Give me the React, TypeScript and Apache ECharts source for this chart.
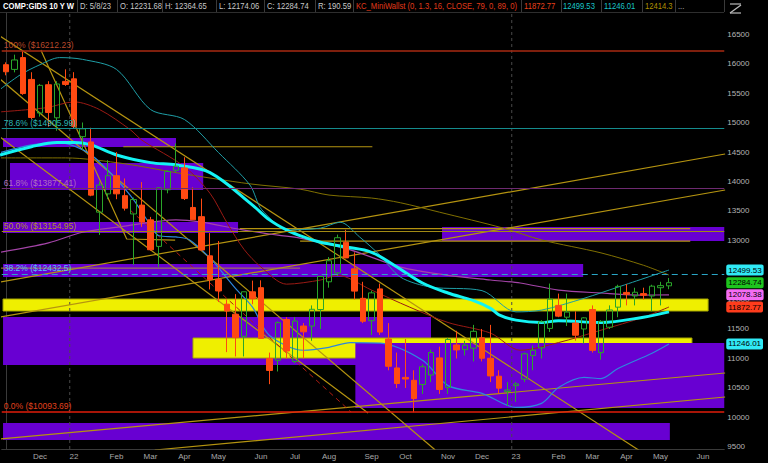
import React, { useEffect, useRef } from 'react';
import * as echarts from 'echarts';

const FONT = '"Liberation Sans", Arial, sans-serif';

// ---- categories (weekly bars) ----
const weeks = [
  '2021-11-08', '2021-11-15', '2021-11-22', '2021-11-29', '2021-12-06', '2021-12-13', '2021-12-20', '2021-12-27',
  '2022-01-03', '2022-01-10', '2022-01-17', '2022-01-24', '2022-01-31', '2022-02-07', '2022-02-14', '2022-02-21',
  '2022-02-28', '2022-03-07', '2022-03-14', '2022-03-21', '2022-03-28', '2022-04-04', '2022-04-11', '2022-04-18',
  '2022-04-25', '2022-05-02', '2022-05-09', '2022-05-16', '2022-05-23', '2022-05-30', '2022-06-06', '2022-06-13',
  '2022-06-20', '2022-06-27', '2022-07-04', '2022-07-11', '2022-07-18', '2022-07-25', '2022-08-01', '2022-08-08',
  '2022-08-15', '2022-08-22', '2022-08-29', '2022-09-05', '2022-09-12', '2022-09-19', '2022-09-26', '2022-10-03',
  '2022-10-10', '2022-10-17', '2022-10-24', '2022-10-31', '2022-11-07', '2022-11-14', '2022-11-21', '2022-11-28',
  '2022-12-05', '2022-12-12', '2022-12-19', '2022-12-26', '2023-01-02', '2023-01-09', '2023-01-16', '2023-01-23',
  '2023-01-30', '2023-02-06', '2023-02-13', '2023-02-20', '2023-02-27', '2023-03-06', '2023-03-13', '2023-03-20',
  '2023-03-27', '2023-04-03', '2023-04-10', '2023-04-17', '2023-04-24', '2023-05-01', '2023-05-08', '2023-05-15',
  '2023-05-22', '2023-05-29', '2023-06-05', '2023-06-12', '2023-06-19',
];

// ---- OHLC ----
const opens = [
  15980, 15900, 16100, 15730, 15160, 15640, 15080, 15697, 15740, 14760, 14670, 13480, 13790, 14098, 13760, 13450,
  13600, 13350, 12900, 13860, 14190, 14230, 13560, 13404, 12740, 12340, 11920, 11750, 11376, 12130, 12200, 11000,
  10970, 11660, 10950, 11550, 11550, 11830, 12300, 12450, 12970, 12520, 12020, 11640, 12180, 11330, 10840, 10680,
  10630, 10560, 10720, 11010, 10510, 11230, 11150, 11175, 11350, 11004, 10700, 10440, 10540, 10650, 11050, 11180,
  11510, 11900, 11700, 11600, 11500, 11830, 11100, 11530, 11870, 12120, 12060, 12100, 12060, 12200, 12231.68,
];
const closes = [
  15860, 16060, 15491, 15085, 15630, 15169, 15653, 15645, 14935, 14893, 13769, 13940, 14098, 13791, 13548, 13694,
  13313, 12843, 13893, 14169, 14261, 13711, 13351, 12839, 12335, 12145, 11805, 11354, 12131, 12012, 11340, 10798,
  11607, 11127, 11635, 11452, 11834, 12391, 12657, 13047, 12705, 12142, 11631, 12112, 11448, 10868, 10576, 10652,
  10321, 10860, 11102, 10475, 11323, 11146, 11226, 11461, 11004, 10705, 10497, 10466, 10569, 11079, 11140, 11622,
  12007, 11718, 11787, 11395, 11689, 11138, 11630, 11823, 12222, 12088, 12123, 12072, 12226, 12235, 12284.74,
];
const lows = [
  15800, 15850, 15470, 15054, 15100, 14930, 14860, 15620, 14909, 14532, 13750, 13094, 13700, 13700, 13507, 12587,
  13230, 12830, 12555, 13800, 14150, 13686, 13350, 12830, 12170, 11957, 11108, 11035, 11035, 11920, 11340, 10565,
  10780, 11000, 10920, 11000, 11300, 11500, 12200, 12400, 12700, 12000, 11600, 11400, 11400, 10800, 10500, 10500,
  10089, 10400, 10600, 10400, 10400, 11000, 11050, 10950, 10950, 10600, 10400, 10200, 10265, 10600, 10800, 11000,
  11450, 11700, 11550, 11300, 11250, 11100, 10980, 11500, 11700, 11900, 11900, 12000, 11800, 11900, 12174.06,
];
const highs = [
  16020, 16150, 16212.23, 15852, 15653, 15700, 15700, 15901, 15853, 15000, 14910, 14000, 14362, 14498, 14052, 13728,
  13990, 13400, 13900, 14191, 14646, 14411, 13900, 13710, 13127, 12991, 12000, 12091, 12131, 12320, 12325, 11100,
  11630, 11700, 11700, 11600, 11900, 12400, 12720, 13100, 13181, 12800, 12300, 12150, 12270, 11600, 11100, 11330,
  10800, 10900, 11150, 11200, 11350, 11470, 11300, 11570, 11500, 11570, 10800, 10600, 10600, 11100, 11220, 11650,
  12270, 12100, 12100, 11800, 11700, 11900, 11650, 11900, 12250, 12260, 12200, 12200, 12250, 12300, 12364.65,
];

// ---- study lines: [week index, value] ----
const thickAvg = [
  [-0.7, 14450], [3, 14590], [6, 14660], [8, 14660], [10, 14620], [13, 14450], [17, 14320], [20, 14280], [24, 14150],
  [29, 13600], [31, 13350], [33, 13180], [35, 13060], [37, 12970], [40, 12890], [43, 12800], [46, 12550], [49, 12280],
  [52, 12110], [55, 11980], [57, 11850], [58, 11740], [60, 11650], [63, 11610], [65, 11640], [70, 11610], [75, 11700],
  [78, 11790],
];
const upperBand = [
  [-0.7, 15560], [1.7, 15810], [4, 15980], [6.3, 16100], [9, 16070], [13, 15900], [17, 15220], [21, 15050],
  [25, 14490], [28.7, 13940], [30.1, 13520], [33.4, 13180], [37, 13210], [39.3, 13310], [41.6, 13060], [44, 12750],
  [46.4, 12380], [50, 12210], [56, 12150], [60, 11790], [63, 11820], [68, 12020], [72, 12210], [78, 12499.53],
];
const lowerBand = [
  [-0.7, 14490], [3, 14620], [6.3, 14660], [9, 14540], [11, 14330], [14.6, 13770], [17, 13260], [18, 13080],
  [20, 13060], [21.6, 13010], [24, 12700], [27, 12190], [29, 11870], [31, 11390], [35, 11140], [38, 11190],
  [40.5, 11270], [44, 11260], [49, 10970], [52, 10540], [56, 10410], [60, 10170], [63, 10240], [65, 10510],
  [68, 10680], [70, 10660], [72, 10830], [76, 11090], [78, 11246.01],
];
const midBand = [
  [-0.7, 15180], [4.7, 15250], [8, 15350], [11, 15220], [14.6, 14880], [16, 14700], [21, 14250], [24, 13800],
  [26, 13300], [28, 12850], [30, 12550], [33, 12260], [37, 12330], [39, 12410], [43, 12160], [47.5, 11870],
  [52, 11610], [57, 11430], [60.5, 11140], [65, 11270], [70, 11480], [75, 11700], [78, 11872.77],
];
const magentaAvg = [
  [-0.7, 12800], [5, 12960], [9, 13140], [13.4, 13230], [20, 13350], [23, 13310], [27.5, 13190], [32, 13090],
  [34.6, 13040], [40.5, 12840], [46.4, 12550], [52, 12410], [57, 12330], [60.5, 12280], [65, 12160], [70, 12110],
  [75, 12075], [78, 12078.38],
];
const oliveAvg = [
  [-0.7, 14400], [7, 14400], [14, 14300], [20, 14150], [28.7, 13960], [34.6, 13870], [38, 13770], [43, 13720],
  [46.4, 13640], [51, 13480], [58.5, 13210], [63, 13010], [70, 12790], [75, 12580], [78, 12414.3],
];

// ---- drawn trend lines: [week index, price] ----
const trendUp1 = [[-0.71, 12297], [84.6, 14466]];
const trendUp2 = [[-0.71, 11703], [84.6, 13856]];
const trendLow1 = [[-0.71, 9636], [84.6, 10754]];
const trendLow2 = [[17.5, 9449], [84.6, 10347]];
const trendDown1 = [[-0.71, 16466], [74.6, 9432]];
const trendDown2 = [[-0.71, 14754], [42.6, 10076]];
const trendDown3 = [[-0.71, 15737], [50.5, 9449]];
const zigzag = [[4.1, 16229], [14.2, 13025], [19.9, 13008]];
const redDashed = [[14.6, 13517], [40.6, 10093]];
const hLine1 = [[13.8, 14589], [43.1, 14589]];
const hLine2 = [[27.5, 13200], [80.5, 13200]];
const hLine3 = [[34.6, 12990], [80.5, 12990]];
const hLine4 = [[-0.71, 12532], [34.6, 12532]];

// ---- zones: [from week, to week, top price, bottom price] ----
const purpleZonesBack = [
  [-0.35, 20, 14737, 14585],
  [0.47, 23.2, 14313, 13856],
  [-0.35, 27.3, 13313, 13127],
  [-0.35, 67.9, 12602, 12381],
  [51.3, 84.5, 13229, 12991],
  [-0.35, 50, 11703, 10890],
  [-0.35, 78.1, 9907, 9618],
];
const yellowZones = [
  [-0.35, 82.6, 12008, 11805],
  [22, 80.7, 11347, 11008],
];
const purpleZonesFront = [[41.1, 84.5, 11263, 10161]];

// ---- fib levels ----
const fibPct = ['100%', '78.6%', '61.8%', '50.0%', '38.2%', '0.0%'];
const fibValues = [16212.23, 14905.99, 13877.41, 13154.95, 12432.5, 10093.69];
const fibLineColors = ['#a82a12', '#158c8e', '#6e2a70', '#a08a14', '#2aa6c6', '#e01c0a'];
const fibTextColors = ['#b8482a', '#2ab4b4', '#b070c0', '#b09624', '#52c2ee', '#e0401c'];

// ---- right-axis tags ----
const tagValues = [12499.53, 12284.74, 12078.38, 11872.77, 11246.01];
const tagColors = ['#30eaf6', '#1ec41e', '#f46cf4', '#ff3c1c', '#30eaf6'];

const yTicks = [9500, 10000, 10500, 11000, 11500, 12000, 12500, 13000, 13500, 14000, 14500, 15000, 15500, 16000, 16500];
const monthNames = ['Jan', 'Feb', 'Mar', 'Apr', 'May', 'Jun', 'Jul', 'Aug', 'Sep', 'Oct', 'Nov', 'Dec'];

const yearMarks = [7.5, 59.5];

// ---- header ----
const headerTexts = [
  'COMP:GIDS 10 Y W', 'D: 5/8/23', 'O: 12231.68', 'H: 12364.65', 'L: 12174.06', 'C: 12284.74', 'R: 190.59',
  'KC_MiniWallst (0, 1.3, 16, CLOSE, 79, 0, 89, 0)', '11872.77', '12499.53', '11246.01', '12414.3', '...',
];
const headerX = [3, 80, 120, 165, 219, 267, 318, 356, 524, 563, 604, 645, 678];
const headerColors = ['#ffffff', '#c8c8c8', '#c8c8c8', '#c8c8c8', '#c8c8c8', '#c8c8c8', '#c8c8c8', '#e03a1a', '#e8401c', '#19c4c8', '#19c4c8', '#b09000', '#aaaaaa'];
const headerSeps = [77, 117, 162, 216, 264, 315, 353, 521, 561, 601, 642, 675, 724];

const isMonthStart = (i: number) => i > 0 && weeks[i].slice(5, 7) !== weeks[i - 1].slice(5, 7);
const fmtWeek = (v: string) => {
  const m = parseInt(v.slice(5, 7), 10);
  return m === 1 ? v.slice(2, 4) : monthNames[m - 1];
};

const rectRender = (fill: string, stroke: string | null) => (params: any, api: any) => {
  const p1 = api.coord([api.value(0), api.value(2)]);
  const p2 = api.coord([api.value(1), api.value(3)]);
  return {
    type: 'rect',
    shape: { x: p1[0], y: p1[1], width: p2[0] - p1[0], height: p2[1] - p1[1] },
    style: { fill, stroke: stroke || 'none', lineWidth: stroke ? 1 : 0 },
  };
};

const GOLD = '#b59410';

const lineSeries = (data: number[][], color: string, width: number, extra: any = {}) => ({
  type: 'line',
  xAxisIndex: 1,
  yAxisIndex: 0,
  data,
  symbol: 'none',
  silent: true,
  clip: true,
  lineStyle: { color, width, ...(extra.lineStyle || {}) },
  smooth: extra.smooth || false,
  z: extra.z || 3,
});

function buildOption() {
  const header: any[] = [];
  headerSeps.forEach((x) => {
    header.push({ type: 'line', shape: { x1: x + 0.5, y1: 0, x2: x + 0.5, y2: 12 }, style: { stroke: '#3a3a3a', lineWidth: 1 } });
  });
  header.push({ type: 'line', shape: { x1: 0, y1: 12.5, x2: 724, y2: 12.5 }, style: { stroke: '#2e2e2e', lineWidth: 1 } });
  headerTexts.forEach((t, i) => {
    header.push({
      type: 'text',
      x: headerX[i],
      y: 6.5,
      scaleX: 0.9,
      style: {
        text: t,
        fill: headerColors[i],
        fontSize: 8.5,
        fontFamily: FONT,
        fontWeight: i === 0 ? 'bold' : 'normal',
        verticalAlign: 'middle',
        align: 'left',
      },
    });
  });
  // small toolbar icon
  header.push({ type: 'polyline', shape: { points: [[730, 4], [741, 4]] }, style: { stroke: '#bbbbbb', lineWidth: 1.2, fill: 'none' } });
  header.push({ type: 'polyline', shape: { points: [[730, 13], [741, 5]] }, style: { stroke: '#bbbbbb', lineWidth: 1.2, fill: 'none' } });
  header.push({ type: 'polyline', shape: { points: [[730, 13], [741, 13]] }, style: { stroke: '#bbbbbb', lineWidth: 1.2, fill: 'none' } });

  const candleData = opens.map((o, i) => [o, closes[i], lows[i], highs[i]]);

  return {
    backgroundColor: '#000000',
    animation: false,
    textStyle: { fontFamily: FONT },
    grid: { left: 1.75, right: 43.75, top: 13, bottom: 14, containLabel: false },
    xAxis: [
      {
        type: 'category',
        data: weeks,
        boundaryGap: true,
        axisLine: { show: true, lineStyle: { color: '#3a3a3a' } },
        axisTick: { show: false },
        splitLine: { show: false },
        axisLabel: {
          interval: (i: number) => isMonthStart(i),
          formatter: (v: string) => fmtWeek(v),
          color: '#a8a8a8',
          fontSize: 8,
          margin: 3,
          fontFamily: FONT,
        },
      },
      { type: 'value', min: -0.5, max: 84.5, show: false, gridIndex: 0 },
    ],
    yAxis: [
      {
        type: 'value',
        position: 'right',
        min: 9466,
        max: 16856,
        splitLine: { show: false },
        axisLine: { show: true, lineStyle: { color: '#3a3a3a' } },
        axisTick: { show: false },
        axisLabel: {
          customValues: yTicks,
          formatter: (v: number) => String(v),
          color: '#b4b4b4',
          fontSize: 8,
          margin: 3,
          fontFamily: FONT,
        },
      },
    ],
    graphic: header,
    series: [
      {
        type: 'custom', xAxisIndex: 1, yAxisIndex: 0, silent: true, z: 1,
        renderItem: rectRender('#6800d2', null), data: purpleZonesBack, encode: { x: [0, 1], y: [2, 3] },
      },
      {
        type: 'custom', xAxisIndex: 1, yAxisIndex: 0, silent: true, z: 1,
        renderItem: rectRender('#efef00', '#a6a600'), data: yellowZones, encode: { x: [0, 1], y: [2, 3] },
      },
      {
        type: 'custom', xAxisIndex: 1, yAxisIndex: 0, silent: true, z: 1,
        renderItem: rectRender('#6800d2', null), data: purpleZonesFront, encode: { x: [0, 1], y: [2, 3] },
      },
      // year separators
      ...yearMarks.map((x) => lineSeries([[x, 9466], [x, 16856]], '#4a4a4a', 1, { lineStyle: { type: [3, 3] }, z: 2 })),
      // fib levels
      {
        type: 'line', xAxisIndex: 1, yAxisIndex: 0, data: [[-0.5, 9466]], symbol: 'none', silent: true, z: 2,
        lineStyle: { opacity: 0 },
        markLine: {
          symbol: ['none', 'none'],
          silent: true,
          animation: false,
          data: fibValues.map((v, i) => ({
            yAxis: v,
            lineStyle: { color: fibLineColors[i], width: i === 0 || i === 5 ? 1.5 : 1.2, type: i === 4 ? [6, 4] : 'solid' },
            label: {
              show: true,
              position: 'insideStartTop',
              formatter: `${fibPct[i]} ($${v})`,
              color: fibTextColors[i],
              fontSize: 8.5,
              fontFamily: FONT,
              distance: [2, 1],
            },
          })),
        },
      },
      // trend lines
      lineSeries(trendUp1, GOLD, 1.2, { z: 2 }),
      lineSeries(trendUp2, GOLD, 1.2, { z: 2 }),
      lineSeries(trendLow1, GOLD, 1.2, { z: 2 }),
      lineSeries(trendLow2, GOLD, 1.2, { z: 2 }),
      lineSeries(trendDown1, GOLD, 1.2, { z: 2 }),
      lineSeries(trendDown2, GOLD, 1.2, { z: 2 }),
      lineSeries(trendDown3, GOLD, 1.2, { z: 2 }),
      lineSeries(zigzag, GOLD, 1.2, { z: 2 }),
      lineSeries(redDashed, '#b01c12', 1, { lineStyle: { type: [5, 4] }, z: 2 }),
      lineSeries(hLine1, GOLD, 1.2, { z: 2 }),
      lineSeries(hLine2, GOLD, 1.2, { z: 2 }),
      lineSeries(hLine3, GOLD, 1.2, { z: 2 }),
      lineSeries(hLine4, '#a88a40', 1, { z: 2 }),
      // studies
      lineSeries(oliveAvg, '#807000', 1, { smooth: 0.3 }),
      lineSeries(magentaAvg, '#a444a8', 1.2, { smooth: 0.3 }),
      lineSeries(midBand, '#9a1a14', 1, { smooth: 0.3 }),
      lineSeries(upperBand, '#1f9ea6', 1, { smooth: 0.3 }),
      lineSeries(lowerBand, '#2e86dc', 1.2, { smooth: 0.3 }),
      lineSeries(thickAvg, '#14f4f4', 3, { smooth: 0.35, z: 3 }),
      // candles
      {
        type: 'candlestick',
        xAxisIndex: 0,
        yAxisIndex: 0,
        data: candleData,
        barWidth: 6,
        silent: true,
        z: 4,
        itemStyle: {
          color: 'rgba(0,0,0,0)',
          color0: '#ff4a12',
          borderColor: '#2aa62a',
          borderColor0: '#ff4a12',
          borderWidth: 1,
        },
      },
      // right-axis tags
      {
        type: 'line', xAxisIndex: 1, yAxisIndex: 0, data: [[-0.5, 9466]], symbol: 'none', silent: true, z: 10,
        lineStyle: { color: 'rgba(0,0,0,0)', width: 0 },
        markLine: {
          symbol: ['none', 'none'],
          silent: true,
          animation: false,
          z: 10,
          data: tagValues.map((v, i) => ({
            yAxis: v,
            lineStyle: { color: 'rgba(0,0,0,0)', width: 0 },
            label: {
              show: true,
              position: 'end',
              formatter: String(v),
              backgroundColor: tagColors[i],
              color: '#000000',
              opacity: 1,
              fontSize: 8,
              fontFamily: FONT,
              padding: [2, 2, 1, 2],
              borderRadius: 2,
              distance: 2,
            },
          })),
        },
      },
      // annotations
      {
        type: 'scatter', xAxisIndex: 1, yAxisIndex: 0, silent: true, z: 7,
        symbolSize: 1,
        itemStyle: { opacity: 0 },
        data: [
          {
            value: [4.88, 16381],
            label: {
              show: true, position: 'inside', formatter: 'Hi: 16212.23', color: '#222222',
              backgroundColor: '#c6c6c6', borderRadius: 3, padding: [2, 3, 1, 3], fontSize: 8.5, fontFamily: FONT,
            },
          },
          {
            value: [39.3, 13313],
            label: {
              show: true, position: 'inside', formatter: 'AAMR', color: '#d0d0d0', fontSize: 8.5, fontFamily: FONT,
            },
          },
        ],
      },
    ],
  };
}

export default function App() {
  const ref = useRef<HTMLDivElement>(null);
  useEffect(() => {
    if (!ref.current) return;
    const chart = echarts.init(ref.current, null, { renderer: 'svg' });
    chart.setOption(buildOption() as any);
    return () => chart.dispose();
  }, []);
  return (
    <div
      ref={ref}
      style={{ position: 'fixed', left: 0, top: 0, width: 768, height: 463, background: '#000' }}
    />
  );
}
